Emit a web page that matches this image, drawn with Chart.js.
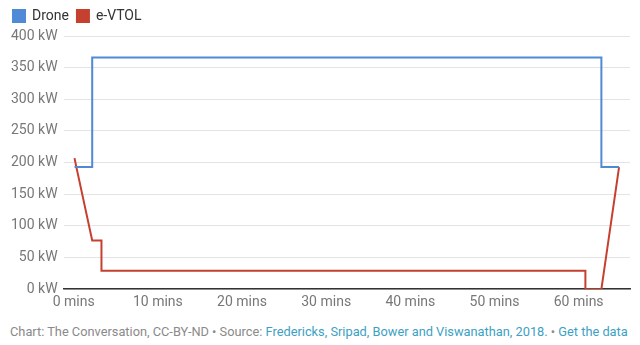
<!DOCTYPE html>
<html>
<head>
<meta charset="utf-8">
<script src="https://cdn.jsdelivr.net/npm/chart.js@4/dist/chart.umd.min.js"></script>
<style>
  body { margin: 0; background: #fff; font-family: Roboto, sans-serif; }
  #wrap { position: relative; width: 640px; height: 316px; }
  #foot { position: absolute; left: 10px; top: 324px; font-size: 12.8px; color: #8a8a8a; white-space: nowrap; }
  #foot a { color: #3d9fc4; text-decoration: none; }
</style>
</head>
<body>
<div id="wrap"><canvas id="powerChart"></canvas></div>
<div id="foot">Chart: The Conversation, CC-BY-ND • Source: <a>Fredericks, Sripad, Bower and Viswanathan, 2018.</a> • <a>Get the data</a></div>
<script>
// minutes and kW
const droneMins = [0.1, 2.2, 2.2, 62.7, 62.7, 64.8];
const droneKw = [193, 193, 366, 366, 193, 193];
const evtolMins = [0.1, 0.3, 2.2, 3.3, 3.3, 60.8, 60.8, 62.7, 64.8];
const evtolKw = [207, 194, 77, 77, 29, 29, 0, 0, 193];
const xTicks = [0, 10, 20, 30, 40, 50, 60];
const yTicks = [0, 50, 100, 150, 200, 250, 300, 350, 400];

const toPoints = (xs, ys) => xs.map((x, i) => ({ x: x, y: ys[i] }));

// a bit more room under the legend
const legendGap = {
    id: 'legendGap',
    beforeInit: function(c) {
        const fit = c.legend.fit;
        c.legend.fit = function() {
            fit.bind(c.legend)();
            this.height += 3;
        };
    }
};

var chart = document.getElementById('powerChart');
new Chart(chart, {
    type: 'line',
    plugins: [legendGap],
    data: {
        datasets: [
        {
            label: 'Drone',
            data: toPoints(droneMins, droneKw),
            borderColor: '#5089d6',
            backgroundColor: '#5089d6',
            borderWidth: 2,
            pointRadius: 0,
            tension: 0
        },
        {
            label: 'e-VTOL',
            data: toPoints(evtolMins, evtolKw),
            borderColor: '#c5402f',
            backgroundColor: '#c5402f',
            borderWidth: 2,
            pointRadius: 0,
            tension: 0
        }
        ]
    },
    options: {
        responsive: true,
        maintainAspectRatio: false,
        animation: false,
        layout: { padding: { left: 5, right: 10, top: 1 } },
        plugins: {
            legend: {
                position: 'top',
                align: 'start',
                labels: {
                    boxWidth: 12,
                    boxHeight: 12,
                    padding: 8,
                    color: '#333',
                    font: { family: 'Roboto', size: 14 }
                }
            },
            tooltip: { enabled: false }
        },
        scales: {
            x: {
                type: 'linear',
                min: -1.2,
                max: 66.1,
                afterBuildTicks: function(axis) {
                    axis.ticks = xTicks.map(v => ({ value: v }));
                },
                grid: { display: false, drawTicks: false },
                border: { display: true, color: '#333', width: 1.5 },
                ticks: {
                    color: '#777',
                    padding: 5,
                    maxRotation: 0,
                    font: { family: 'Roboto', size: 14 },
                    callback: v => v + ' mins'
                }
            },
            y: {
                min: 0,
                max: 400,
                afterBuildTicks: function(axis) {
                    axis.ticks = yTicks.map(v => ({ value: v }));
                },
                grid: { color: '#e4e4e4', drawTicks: false },
                border: { display: false },
                ticks: {
                    color: '#777',
                    padding: 6,
                    font: { family: 'Roboto', size: 14 },
                    callback: v => v + ' kW'
                }
            }
        }
    }
});
</script>
</body>
</html>
